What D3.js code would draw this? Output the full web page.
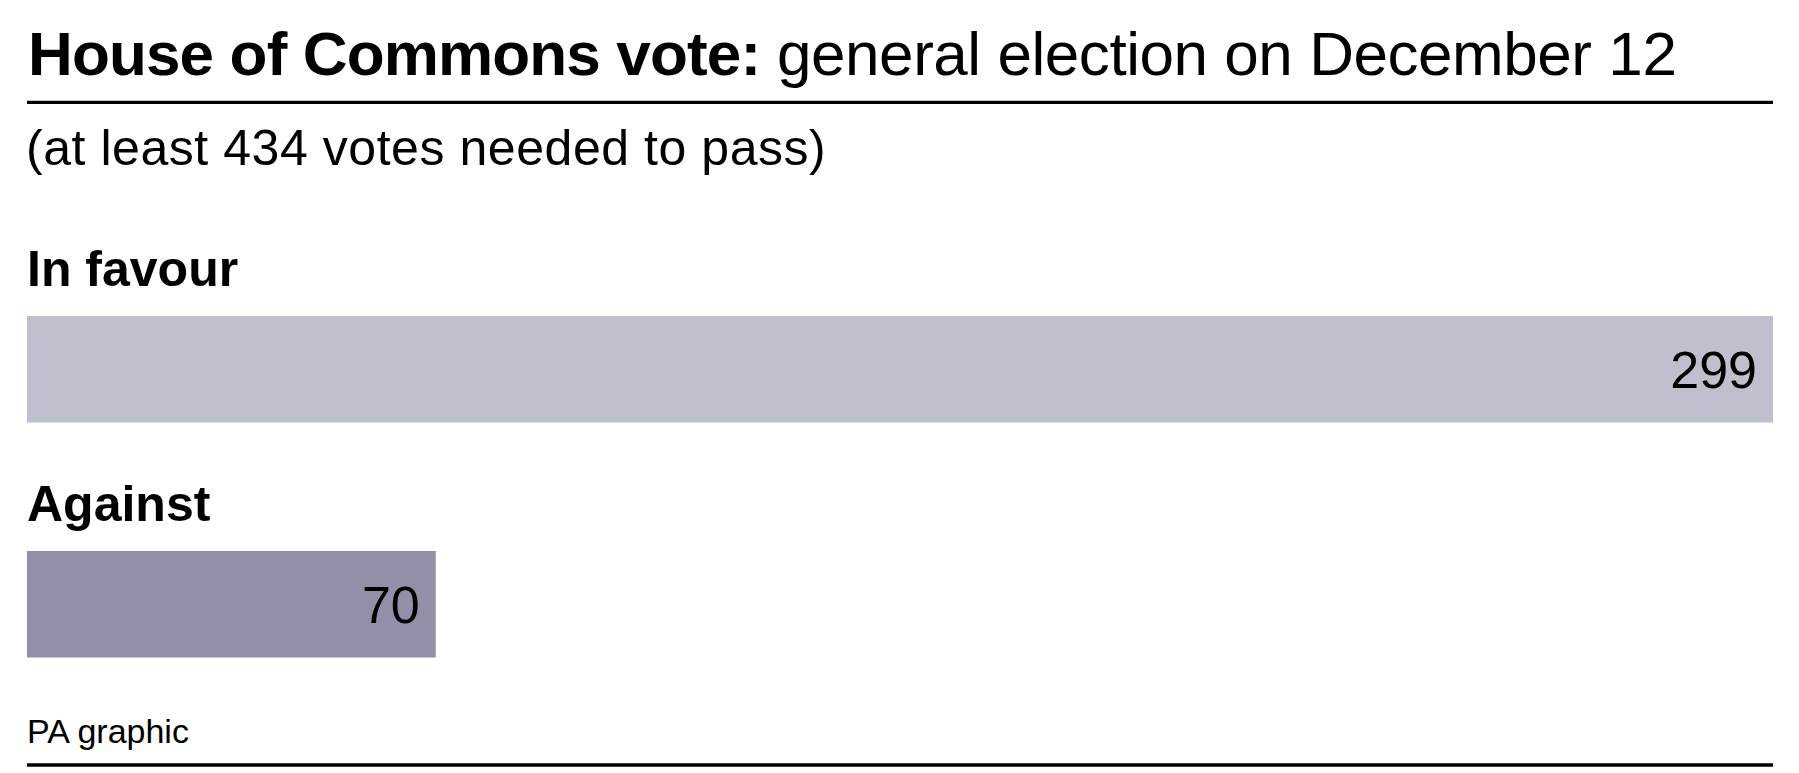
<!DOCTYPE html>
<html>
<head>
<meta charset="utf-8">
<script src="https://cdn.jsdelivr.net/npm/d3@7"></script>
<style>
  html, body { margin: 0; padding: 0; background: #ffffff; }
  svg { display: block; }
  text { font-family: "Liberation Sans", Arial, sans-serif; fill: #000; }
</style>
</head>
<body>
<svg id="chart" width="1799" height="773"></svg>
<script>
const categories = ["In favour", "Against"];
const values = [299, 70];
const barColors = ["#bec0cd", "#938fa8"];
const titleBold = "House of Commons vote:";
const titleRegular = " general election on December 12";
const subtitle = "(at least 434 votes needed to pass)";
const source = "PA graphic";

const W = 1799, H = 773;
const left = 27, right = 1773;
const svg = d3.select("#chart");

// Title
const title = svg.append("text").attr("x", left + 1).attr("y", 75)
  .style("font-size", "62px");
title.append("tspan").style("font-weight", "bold")
  .style("letter-spacing", "-0.85px").text(titleBold);
title.append("tspan").style("font-weight", "normal")
  .style("letter-spacing", "-0.45px").text(titleRegular);

svg.append("line").attr("x1", left).attr("x2", right)
  .attr("y1", 102.3).attr("y2", 102.3)
  .attr("stroke", "#000").attr("stroke-width", 3.3);

svg.append("text").attr("x", left - 1).attr("y", 165)
  .style("font-size", "50px").style("letter-spacing", "0.55px").text(subtitle);

// Scales
const x = d3.scaleLinear().domain([0, d3.max(values)]).range([left, right]);
const y = d3.scaleOrdinal().domain(categories).range([316, 551]);
const labelOffset = -30;
const barH = 106.5;

const g = svg.append("g");
categories.forEach((c, i) => {
  const top = y(c);
  g.append("text").attr("x", left).attr("y", top + labelOffset)
    .style("font-size", "50px").style("font-weight", "bold").text(c);
  g.append("rect").attr("x", x(0)).attr("y", top)
    .attr("width", x(values[i]) - x(0)).attr("height", barH)
    .attr("fill", barColors[i]);
  g.append("text").attr("x", x(values[i]) - 16).attr("y", top + 72)
    .attr("text-anchor", "end").style("font-size", "52px").text(values[i]);
});

svg.append("text").attr("x", left).attr("y", 743)
  .style("font-size", "34px").text(source);

svg.append("line").attr("x1", left).attr("x2", right)
  .attr("y1", 765).attr("y2", 765)
  .attr("stroke", "#000").attr("stroke-width", 3.5);
</script>
</body>
</html>
